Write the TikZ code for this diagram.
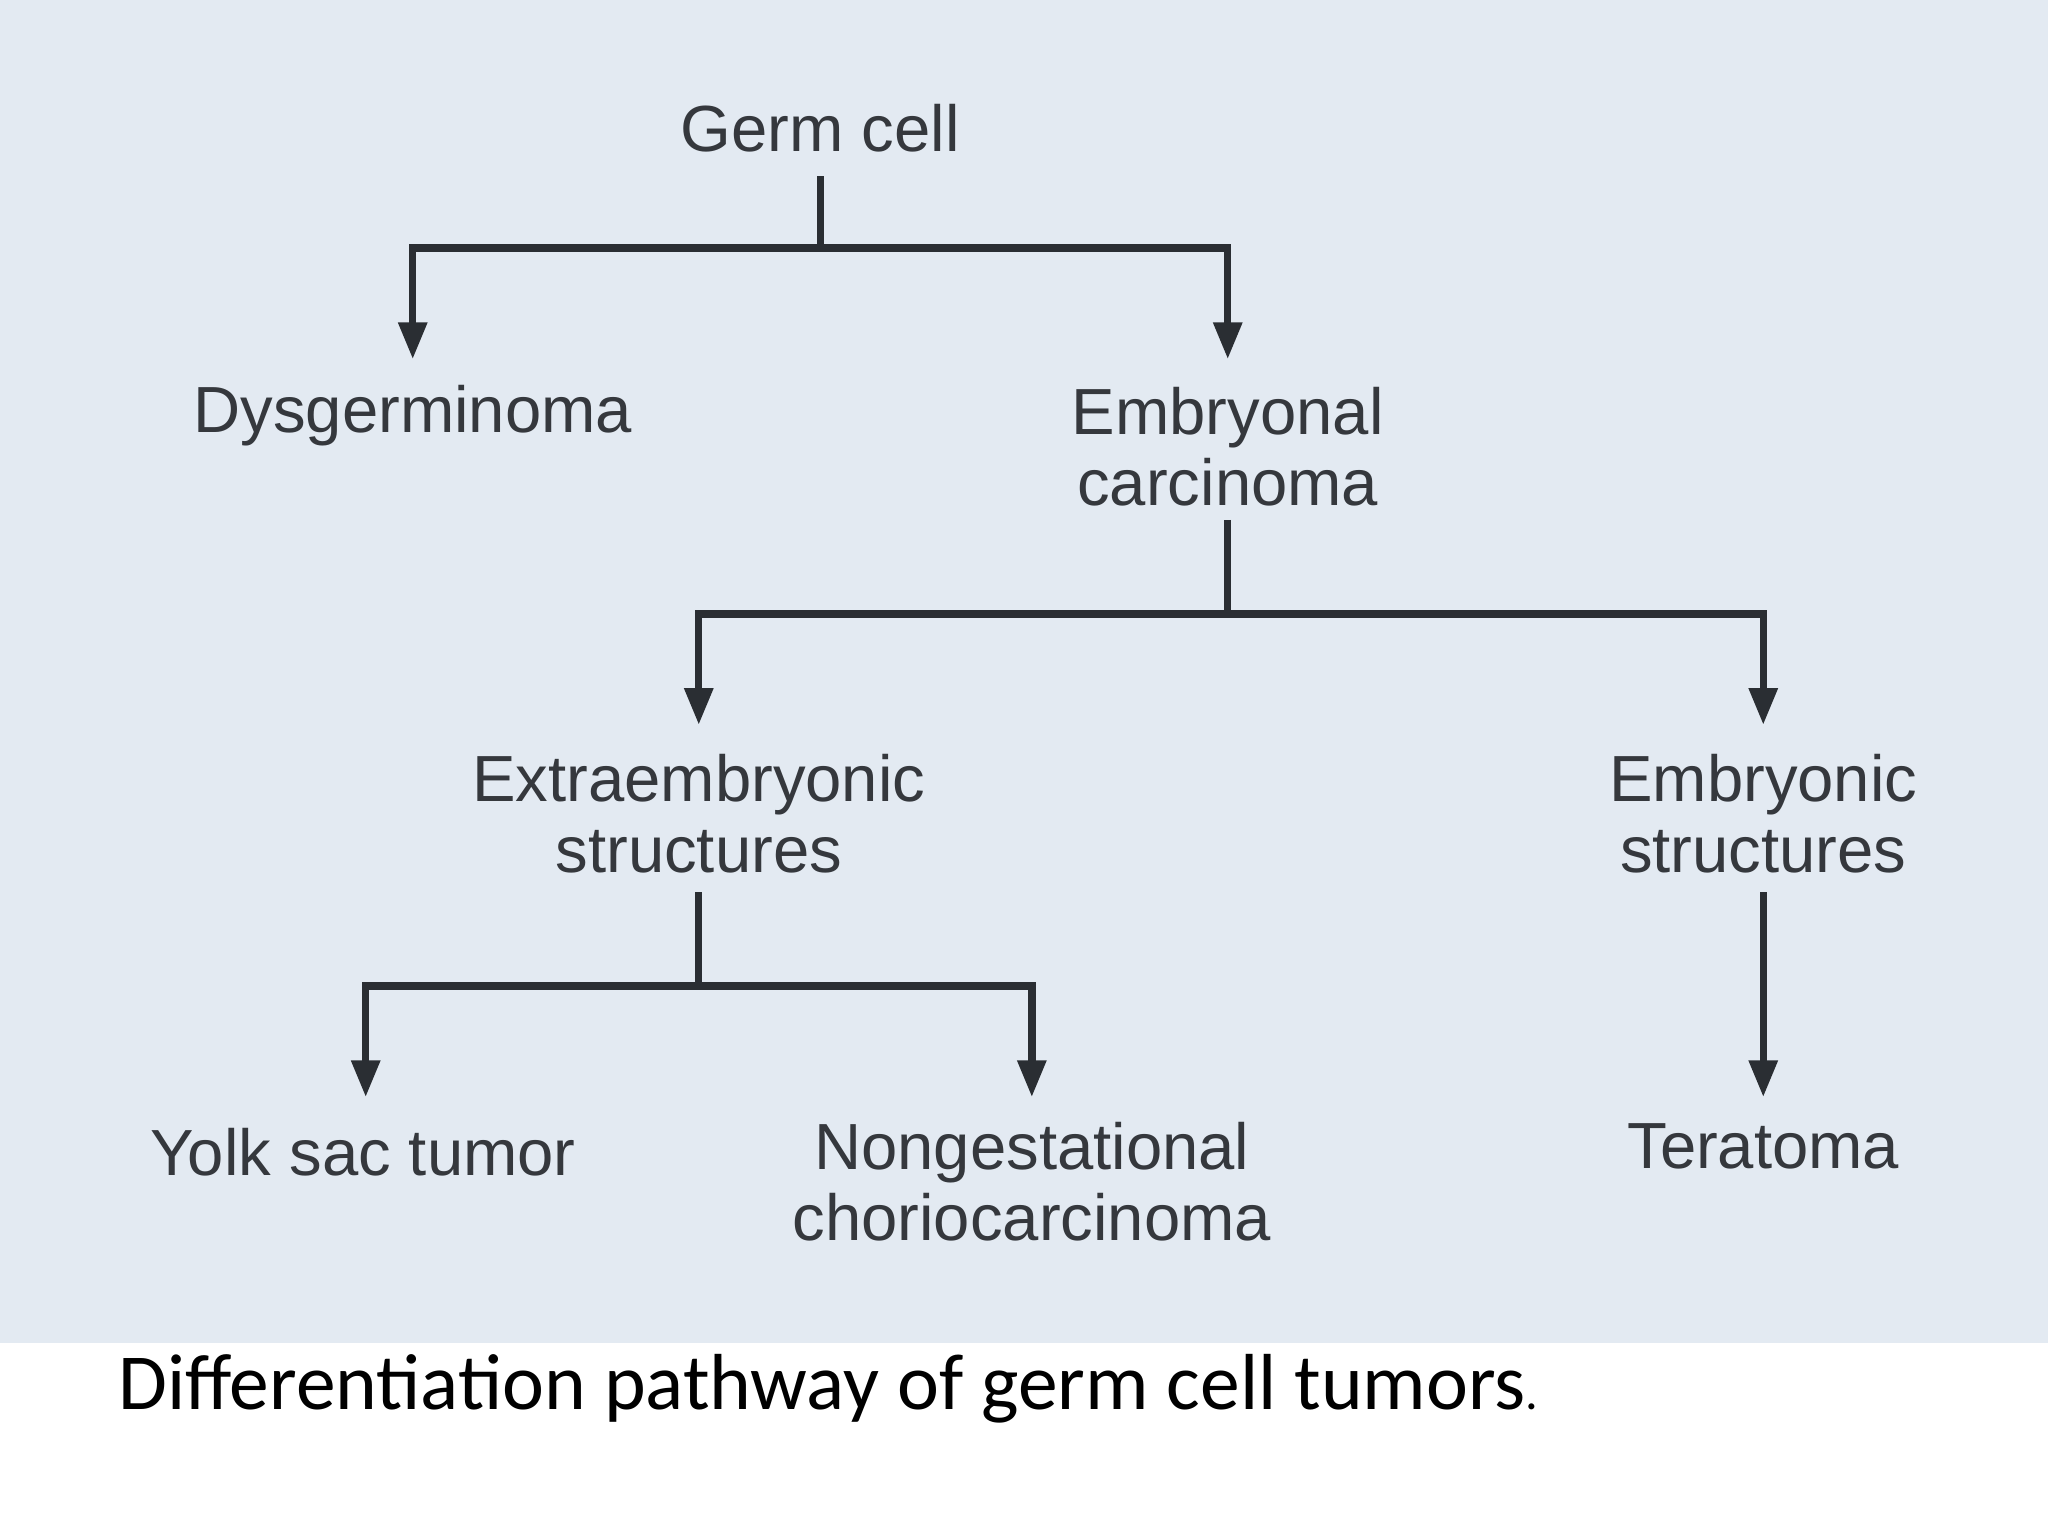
\documentclass[tikz,border=0pt]{standalone}
\usepackage{fontspec}
\setmainfont{Liberation Sans}
\newfontfamily\capfont{Carlito}
\usetikzlibrary{arrows.meta}
\definecolor{bg}{HTML}{E3EAF2}
\definecolor{ink}{HTML}{2A2E33}
\begin{document}
\begin{tikzpicture}[x=0.01cm,y=-0.01cm,
  lbl/.style={text=ink!95,font=\fontsize{14.2}{15.5}\selectfont,align=center,inner sep=0pt},
  ln/.style={draw=ink,line width=1.6pt},
  arr/.style={ln,-{Triangle[length=8pt,width=6pt]}}]
\useasboundingbox (0,0) rectangle (1568,1176);
\fill[white] (0,0) rectangle (1568,1176);
\fill[bg] (0,0) rectangle (1568,1028);
\node[lbl] (g) at (628,98) {Germ cell};
\node[lbl] (d) at (316,318) {Dysgerminoma};
\node[lbl] (e) at (940,342) {Embryonal\\carcinoma};
\node[lbl] (x) at (535,623) {Extraembryonic\\structures};
\node[lbl] (s) at (1350,623) {Embryonic\\structures};
\node[lbl] (y) at (278,882) {Yolk sac tumor};
\node[lbl] (n) at (790,905) {Nongestational\\choriocarcinoma};
\node[lbl] (t) at (1350,878) {Teratoma};
\coordinate (g1) at (628,135); \coordinate (g2) at (628,190);
\coordinate (d1) at (316,275); \coordinate (e1) at (940,275);
\draw[ln] (g1)--(g2);
\draw[arr] (g2)-|(d1);
\draw[arr] (g2)-|(e1);
\coordinate (e2) at (940,398); \coordinate (e3) at (940,470);
\coordinate (x1) at (535,555); \coordinate (s1) at (1350,555);
\draw[ln] (e2)--(e3);
\draw[arr] (e3)-|(x1);
\draw[arr] (e3)-|(s1);
\coordinate (x2) at (535,683); \coordinate (x3) at (535,755);
\coordinate (y1) at (280,840); \coordinate (n1) at (790,840);
\draw[ln] (x2)--(x3);
\draw[arr] (x3)-|(y1);
\draw[arr] (x3)-|(n1);
\coordinate (s2) at (1350,683); \coordinate (t1) at (1350,840);
\draw[arr] (s2)--(t1);
\node[anchor=west,inner sep=0pt,font=\capfont\fontsize{17.3}{20}\selectfont] (c) at (90,1063) {Differentiation pathway of germ cell tumors{\fontsize{11}{12}\selectfont.}};
\end{tikzpicture}
\end{document}
